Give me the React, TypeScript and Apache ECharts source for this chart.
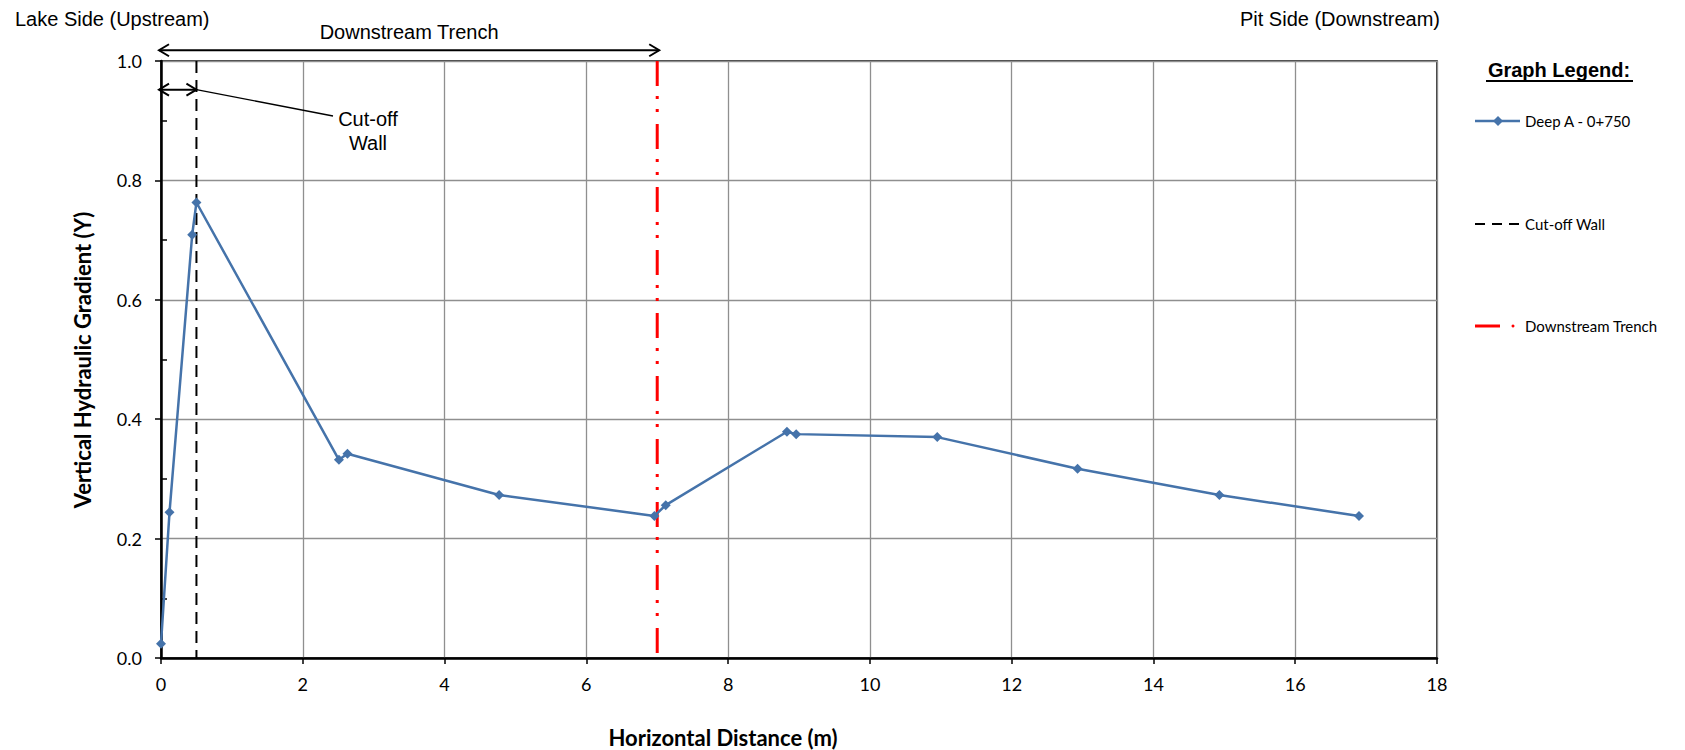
import React, { useEffect, useRef } from "react";
import * as echarts from "echarts";

// ---- data ----
const distance = [0, 0.12, 0.44, 0.5, 2.51, 2.63, 4.77, 6.96, 7.12, 8.83, 8.96, 10.95, 12.93, 14.93, 16.9];
const gradient = [0.024, 0.244, 0.709, 0.763, 0.332, 0.342, 0.273, 0.238, 0.256, 0.379, 0.375, 0.37, 0.317, 0.273, 0.238];
const seriesName = "Deep A - 0+750";
const cutoffWallX = 0.5;
const trenchX = 7;
const xMin = 0, xMax = 18, xStep = 2;
const yMin = 0, yMax = 1, yStep = 0.2;
const trenchArrowY = 1.018;
const wallArrowY = 0.952;

const BLUE = "#4573AA";
const GRID_COLOR = "#8f8f8f";
const TICK_FONT = "Lato";
const ANN_FONT = "'Liberation Sans', Arial, sans-serif";

export default function App() {
  const ref = useRef<HTMLDivElement>(null);

  useEffect(() => {
    if (!ref.current) return;
    const chart = echarts.init(ref.current, undefined, { renderer: "svg" });
    const lineData = distance.map((d, i) => [d, gradient[i]]);

    chart.setOption({
      animation: false,
      backgroundColor: "#ffffff",
      grid: {
        left: 161,
        top: 61,
        right: 248,
        bottom: 92,
        show: true,
        borderColor: "#000",
        borderWidth: 1.5,
        backgroundColor: "transparent",
      },
      xAxis: {
        type: "value",
        min: xMin,
        max: xMax,
        interval: xStep,
        axisLine: { show: true, onZero: false, lineStyle: { color: "#000", width: 2.5 } },
        axisTick: { show: true, length: 6, lineStyle: { color: "#000", width: 1.5 } },
        axisLabel: { color: "#000", fontFamily: TICK_FONT, fontSize: 18, margin: 17 },
        splitLine: { show: true, lineStyle: { color: GRID_COLOR, width: 1.3 } },
      },
      yAxis: [
        {
          type: "value",
          min: yMin,
          max: yMax,
          interval: yStep,
          axisLine: { show: true, onZero: false, lineStyle: { color: "#000", width: 2.5 } },
          axisTick: { show: true, length: 6, lineStyle: { color: "#000", width: 1.5 } },
          axisLabel: {
            color: "#000",
            fontFamily: TICK_FONT,
            fontSize: 18,
            margin: 19,
            formatter: (v: number) => v.toFixed(1),
          },
          splitLine: { show: true, lineStyle: { color: GRID_COLOR, width: 1.3 } },
        },
        {
          type: "value",
          min: yMin,
          max: yMax,
          interval: yStep,
          position: "left",
          axisLine: { show: false, onZero: false },
          axisTick: { show: true, inside: true, length: 0.01, lineStyle: { color: "#000", width: 0.01 } },
          axisLabel: { show: false },
          splitLine: { show: false },
          minorTick: { show: true, splitNumber: 2, length: 6, lineStyle: { color: "#000", width: 1.5 } },
        },
      ],
      series: [
        {
          name: "Cut-off Wall",
          type: "line",
          data: [
            [cutoffWallX, yMax],
            [cutoffWallX, yMin],
          ],
          symbol: "none",
          lineStyle: { color: "#000", width: 2, type: [12, 7] },
          z: 3,
        },
        {
          name: "Downstream Trench",
          type: "line",
          data: [
            [trenchX, yMax],
            [trenchX, yMin],
          ],
          symbol: "none",
          lineStyle: { color: "#ff0000", width: 3, type: [25, 10, 3, 10, 3, 12] },
          z: 3,
        },
        {
          name: seriesName,
          type: "line",
          data: lineData,
          symbol: "diamond",
          symbolSize: 10,
          itemStyle: { color: BLUE },
          lineStyle: { color: BLUE, width: 2.5 },
          z: 4,
        },
      ],
    });

    const p = (x: number, y: number) => chart.convertToPixel({ gridIndex: 0 }, [x, y]) as number[];
    const a0 = p(xMin, trenchArrowY);
    const a1 = p(trenchX, trenchArrowY);
    const w0 = p(xMin, wallArrowY);
    const w1 = p(cutoffWallX, wallArrowY);
    const ah = 10, aw = 6;
    const arrowStyle = { stroke: "#000", lineWidth: 2, fill: "none" };

    const text = (t: string, x: number, y: number, font: string, align = "center", extra: any = {}) => ({
      type: "text",
      x,
      y,
      ...extra,
      style: {
        text: t,
        font,
        fill: "#000",
        textAlign: align,
        textVerticalAlign: "middle",
        align,
        verticalAlign: "middle",
      },
    });

    const legendFont = "15px Lato";
    const lx0 = 1475, lx1 = 1520, ltx = 1525;
    const ly = [121, 224, 326];

    chart.setOption({
      graphic: [
        // top labels
        text("Lake Side (Upstream)", 15, 19, `20px ${ANN_FONT}`, "left"),
        text("Pit Side (Downstream)", 1340, 19, `20px ${ANN_FONT}`),
        text("Downstream Trench", (a0[0] + a1[0]) / 2, 32, `20px ${ANN_FONT}`),
        // Downstream trench arrow
        { type: "line", shape: { x1: a0[0] - 2, y1: a0[1], x2: a1[0] + 2, y2: a1[1] }, style: arrowStyle },
        {
          type: "polyline",
          shape: { points: [[a0[0] - 2 + ah, a0[1] - aw], [a0[0] - 2, a0[1]], [a0[0] - 2 + ah, a0[1] + aw]] },
          style: arrowStyle,
        },
        {
          type: "polyline",
          shape: { points: [[a1[0] + 2 - ah, a1[1] - aw], [a1[0] + 2, a1[1]], [a1[0] + 2 - ah, a1[1] + aw]] },
          style: arrowStyle,
        },
        // cut-off wall arrow
        { type: "line", shape: { x1: w0[0] - 2, y1: w0[1], x2: w1[0], y2: w1[1] }, style: arrowStyle },
        {
          type: "polyline",
          shape: { points: [[w0[0] - 2 + ah, w0[1] - aw], [w0[0] - 2, w0[1]], [w0[0] - 2 + ah, w0[1] + aw]] },
          style: arrowStyle,
        },
        {
          type: "polyline",
          shape: { points: [[w1[0] - ah, w1[1] - aw], [w1[0], w1[1]], [w1[0] - ah, w1[1] + aw]] },
          style: arrowStyle,
        },
        { type: "line", shape: { x1: w1[0], y1: w1[1], x2: 333, y2: 116 }, style: { stroke: "#000", lineWidth: 1.3 } },
        text("Cut-off", 368, 119, `20px ${ANN_FONT}`),
        text("Wall", 368, 143, `20px ${ANN_FONT}`),
        // axis titles
        text("Vertical Hydraulic Gradient (Y)", 82, 360, `bold 22px ${TICK_FONT}`, "center", { rotation: Math.PI / 2 }),
        text("Horizontal Distance (m)", 723, 737, `bold 22px ${TICK_FONT}`),
        // legend
        text("Graph Legend:", 1559, 70, `bold 20px ${ANN_FONT}`),
        { type: "line", shape: { x1: 1486, y1: 81, x2: 1633, y2: 81 }, style: { stroke: "#000", lineWidth: 2 } },
        { type: "line", shape: { x1: lx0, y1: ly[0], x2: lx1, y2: ly[0] }, style: { stroke: BLUE, lineWidth: 2.5 } },
        {
          type: "polygon",
          shape: { points: [[1498, ly[0] - 5], [1503, ly[0]], [1498, ly[0] + 5], [1493, ly[0]]] },
          style: { fill: BLUE },
        },
        text(seriesName, ltx, ly[0], legendFont, "left"),
        {
          type: "line",
          shape: { x1: lx0, y1: ly[1], x2: lx1, y2: ly[1] },
          style: { stroke: "#000", lineWidth: 2, lineDash: [10, 7] },
        },
        text("Cut-off Wall", ltx, ly[1], legendFont, "left"),
        { type: "line", shape: { x1: lx0, y1: ly[2], x2: lx0 + 25, y2: ly[2] }, style: { stroke: "#ff0000", lineWidth: 3 } },
        { type: "circle", shape: { cx: 1513, cy: ly[2], r: 1.5 }, style: { fill: "#ff0000" } },
        text("Downstream Trench", ltx, ly[2], legendFont, "left"),
      ],
    });

    return () => chart.dispose();
  }, []);

  return (
    <div
      ref={ref}
      style={{ position: "absolute", left: 0, top: 0, width: 1685, height: 750, background: "#fff" }}
    />
  );
}
